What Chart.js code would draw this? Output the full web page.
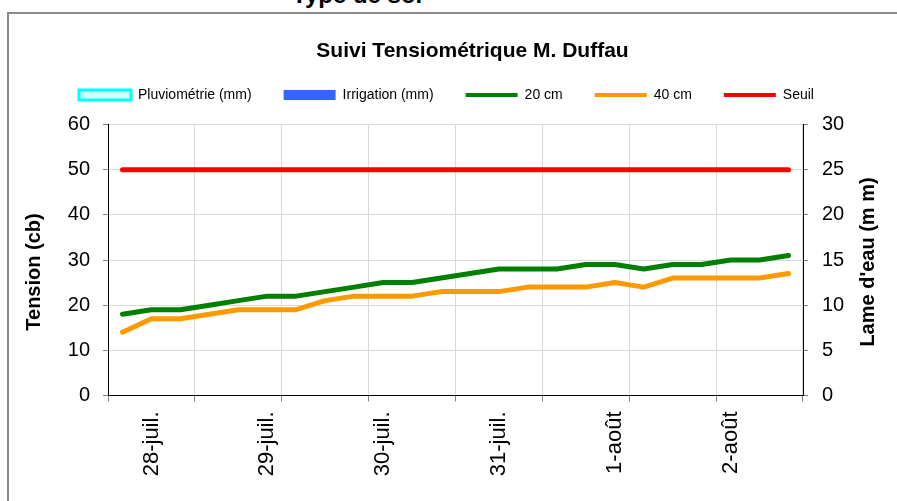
<!DOCTYPE html>
<html>
<head>
<meta charset="utf-8">
<script src="https://cdn.jsdelivr.net/npm/chart.js@4.4.1/dist/chart.umd.min.js"></script>
<style>
  html, body { margin: 0; padding: 0; background: #fff; }
  #wrap { position: relative; width: 897px; height: 501px; overflow: hidden; }
  #frame { position: absolute; left: 7px; top: 12px; right: -10px; bottom: -10px; border-left: 2px solid #8a8a8a; border-top: 2px solid #8a8a8a; }
  #cut { position: absolute; left: 292px; top: -17px; font: bold 24px "Liberation Sans", Arial, sans-serif; line-height: 24px; white-space: nowrap; }
  canvas { position: absolute; left: 0; top: 0; }
</style>
</head>
<body>
<div id="wrap">
  <div id="cut">Type de sol</div>
  <div id="frame"></div>
  <canvas id="tensioChart" width="897" height="501"></canvas>
</div>
<script>
// one reading every 6 hours
const dates = [
  "27-juil.",
  "28-juil.", "28-juil.", "28-juil.", "28-juil.",
  "29-juil.", "29-juil.", "29-juil.", "29-juil.",
  "30-juil.", "30-juil.", "30-juil.", "30-juil.",
  "31-juil.", "31-juil.", "31-juil.", "31-juil.",
  "1-août", "1-août", "1-août", "1-août",
  "2-août", "2-août", "2-août",
];
const pluvio = [0, 0, 0, 0, 0, 0, 0, 0, 0, 0, 0, 0, 0, 0, 0, 0, 0, 0, 0, 0, 0, 0, 0, 0];
const irrigation = [0, 0, 0, 0, 0, 0, 0, 0, 0, 0, 0, 0, 0, 0, 0, 0, 0, 0, 0, 0, 0, 0, 0, 0];
const tension20 = [18, 19, 19, 20, 21, 22, 22, 23, 24, 25, 25, 26, 27, 28, 28, 28, 29, 29, 28, 29, 29, 30, 30, 31];
const tension40 = [14, 17, 17, 18, 19, 19, 19, 21, 22, 22, 22, 23, 23, 23, 24, 24, 24, 25, 24, 26, 26, 26, 26, 27];
const seuil = [50, 50, 50, 50, 50, 50, 50, 50, 50, 50, 50, 50, 50, 50, 50, 50, 50, 50, 50, 50, 50, 50, 50, 50];

const leftTitle = "Tension (cb)";
const rightTitle = "Lame d'eau (m m)";

const FONT = '"Liberation Sans", Arial, sans-serif';
Chart.defaults.font.family = FONT;
Chart.defaults.color = "#000";

// every 3rd category boundary gets a grid line / tick mark
const everyThird = (c, col) => (c.type === "scale" || c.index % 3 === 0 ? col : "rgba(0,0,0,0)");

const axisTitles = {
  id: "axisTitles",
  afterDraw(chart) {
    const { ctx, chartArea } = chart;
    const mid = (chartArea.top + chartArea.bottom) / 2;
    ctx.save();
    ctx.font = "bold 20px " + FONT;
    ctx.fillStyle = "#000";
    ctx.textAlign = "center";
    ctx.textBaseline = "middle";
    [[leftTitle, chartArea.left - 74, mid + 12], [rightTitle, chartArea.right + 65, mid + 2]].forEach(([t, x, y]) => {
      ctx.save();
      ctx.translate(x, y);
      ctx.rotate(-Math.PI / 2);
      ctx.fillText(t, 0, 0);
      ctx.restore();
    });
    ctx.restore();
  },
};

const shiftTitle = {
  id: "shiftTitle",
  afterLayout(chart) {
    chart.titleBlock.left += 26;
    chart.titleBlock.right += 26;
  },
};

const ctx = document.getElementById("tensioChart").getContext("2d");
new Chart(ctx, {
  type: "line",
  data: {
    labels: dates,
    datasets: [
      {
        type: "bar",
        label: "Pluviométrie (mm)",
        data: pluvio,
        yAxisID: "y2",
        backgroundColor: "#ccffff",
        borderColor: "#00ffff",
        borderWidth: 3,
        inflateAmount: 0,
      },
      {
        type: "bar",
        label: "Irrigation (mm)",
        data: irrigation,
        yAxisID: "y2",
        backgroundColor: "#3366ff",
        borderColor: "#3366ff",
        borderWidth: 0,
        inflateAmount: 0,
      },
      {
        label: "20 cm",
        data: tension20,
        borderColor: "#008000",
        backgroundColor: "#008000",
        borderWidth: 5,
        pointRadius: 0,
        tension: 0,
        borderCapStyle: "round",
        borderJoinStyle: "round",
      },
      {
        label: "40 cm",
        data: tension40,
        borderColor: "#ff9900",
        backgroundColor: "#ff9900",
        borderWidth: 5,
        pointRadius: 0,
        tension: 0,
        borderCapStyle: "round",
        borderJoinStyle: "round",
      },
      {
        label: "Seuil",
        data: seuil,
        borderColor: "#ff0000",
        backgroundColor: "#ff0000",
        borderWidth: 5,
        pointRadius: 0,
        tension: 0,
        borderCapStyle: "round",
        borderJoinStyle: "round",
      },
    ],
  },
  options: {
    responsive: false,
    animation: false,
    events: [],
    layout: { padding: { left: 10, right: 14, top: 0, bottom: 0 } },
    plugins: {
      title: {
        display: true,
        text: "Suivi Tensiométrique M. Duffau",
        color: "#000",
        font: { size: 21, weight: "bold" },
        padding: { top: 38.4, bottom: -7.6 },
      },
      // empty subtitle used as a spacer under the legend
      subtitle: {
        display: true,
        text: "",
        weight: 500,
        font: { size: 10 },
        padding: { top: 0, bottom: 0.5 },
      },
      legend: {
        position: "top",
        labels: {
          usePointStyle: true,
          pointStyleWidth: 52,
          boxHeight: 10,
          padding: 32,
          color: "#000",
          font: { size: 14 },
          generateLabels(chart) {
            const items = Chart.defaults.plugins.legend.labels.generateLabels(chart);
            items.forEach((item) => {
              const ds = chart.data.datasets[item.datasetIndex];
              if (ds.type === "bar") {
                item.pointStyle = "rect";
              } else {
                item.pointStyle = "line";
                item.lineWidth = 4;
              }
            });
            return items;
          },
        },
      },
      tooltip: { enabled: false },
    },
    scales: {
      x: {
        offset: true,
        grid: {
          offset: true,
          color: (c) => everyThird(c, "#d9d9d9"),
          tickColor: (c) => everyThird(c, "#808080"),
          tickLength: 6,
        },
        border: { color: "#000", width: 1 },
        ticks: {
          autoSkip: false,
          minRotation: 90,
          maxRotation: 90,
          padding: 10,
          color: "#000",
          font: { size: 22 },
          callback: (v, i) => (i % 4 === 1 ? dates[i] : ""),
        },
        afterFit: (s) => { s.height = 105.5; },
      },
      y: {
        position: "left",
        min: 0,
        max: 60,
        grid: { color: "#d9d9d9", tickColor: "#808080", tickLength: 5 },
        border: { color: "#000", width: 1 },
        ticks: { stepSize: 10, padding: 13, color: "#000", font: { size: 20 } },
        afterFit: (s) => { s.width = 98; },
      },
      y2: {
        position: "right",
        min: 0,
        max: 30,
        grid: { drawOnChartArea: false, tickColor: "#808080", tickLength: 5 },
        border: { color: "#000", width: 1 },
        ticks: { stepSize: 5, padding: 14, color: "#000", font: { size: 20 } },
        afterFit: (s) => { s.width = 80; },
      },
    },
  },
  plugins: [axisTitles, shiftTitle],
});
</script>
</body>
</html>
